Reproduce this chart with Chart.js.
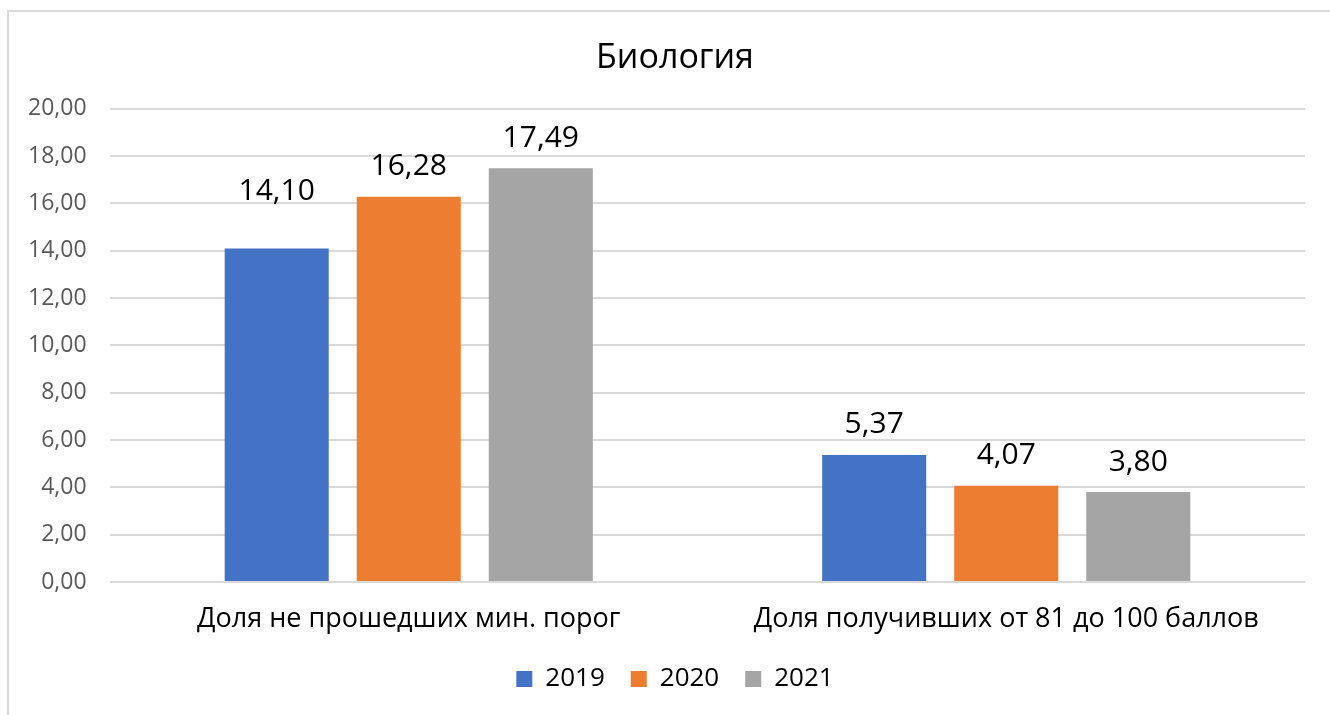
<!DOCTYPE html>
<html>
<head>
<meta charset="utf-8">
<script src="https://cdn.jsdelivr.net/npm/chart.js@4"></script>
<style>
  html, body { margin: 0; padding: 0; background: #fff; }
  #wrap { position: absolute; left: 0; top: 0; width: 1330px; height: 715px; }
  #frame { position: absolute; left: 7px; top: 10px; width: 1340px; height: 720px; border: 2px solid #d9d9d9; box-sizing: border-box; }
</style>
</head>
<body>
<div id="frame"></div>
<div id="wrap"><canvas id="bioChart"></canvas></div>
<script>
const categories = ['Доля не прошедших мин. порог', 'Доля получивших от 81 до 100 баллов'];
const years = ['2019', '2020', '2021'];
const values2019 = [14.10, 5.37];
const values2020 = [16.28, 4.07];
const values2021 = [17.49, 3.80];
const yTicks = [0, 2, 4, 6, 8, 10, 12, 14, 16, 18, 20];

const colors = ['#4472c4', '#ed7d31', '#a5a5a5'];
const fontFamily = '"Open Sans", "Noto Sans", sans-serif';

function fmt(v) {
    return v.toFixed(2).replace('.', ',');
}

// подписи значений над столбцами
const valueLabels = {
    id: 'valueLabels',
    afterDatasetsDraw(chart) {
        const ctx = chart.ctx;
        ctx.save();
        ctx.font = '30px ' + fontFamily;
        ctx.fillStyle = '#000';
        ctx.textAlign = 'center';
        ctx.textBaseline = 'middle';
        chart.data.datasets.forEach((ds, i) => {
            chart.getDatasetMeta(i).data.forEach((bar, j) => {
                let lift = 30;
                if (i === 0 && j === 0) lift = 57; // эта подпись в оригинале сдвинута выше
                ctx.fillText(fmt(ds.data[j]), bar.x, bar.y - lift);
            });
        });
        ctx.restore();
    }
};

const ctx = document.getElementById('bioChart').getContext('2d');
new Chart(ctx, {
    type: 'bar',
    data: {
        labels: categories,
        datasets: [
            { label: years[0], data: values2019, backgroundColor: colors[0] },
            { label: years[1], data: values2020, backgroundColor: colors[1] },
            { label: years[2], data: values2021, backgroundColor: colors[2] }
        ]
    },
    options: {
        responsive: true,
        maintainAspectRatio: false,
        animation: false,
        categoryPercentage: 0.663,
        barPercentage: 0.788,
        layout: {
            padding: { top: 38, left: 45, right: 25, bottom: 13 }
        },
        plugins: {
            title: {
                display: true,
                text: 'Биология',
                color: '#000',
                font: { family: fontFamily, size: 34, weight: 'normal' },
                padding: { top: 0, bottom: 30 }
            },
            legend: {
                position: 'bottom',
                labels: {
                    color: '#000',
                    boxWidth: 16,
                    boxHeight: 16,
                    padding: 26,
                    font: { family: fontFamily, size: 26 }
                }
            },
            tooltip: { enabled: false }
        },
        scales: {
            x: {
                afterFit(scale) { scale.height = 58; },
                grid: { display: false },
                border: { display: false },
                ticks: {
                    color: '#000',
                    padding: 13,
                    font: { family: fontFamily, size: 27 }
                }
            },
            y: {
                min: 0,
                max: 20,
                afterFit(scale) { scale.width = 65; },
                afterBuildTicks(scale) {
                    scale.ticks = yTicks.map(v => ({ value: v }));
                },
                grid: { color: '#d9d9d9', lineWidth: 2, drawTicks: false },
                border: { display: false },
                ticks: {
                    // mirror + far: подписи справа выровнены, без обрезки по краю оси
                    mirror: true,
                    crossAlign: 'far',
                    color: '#595959',
                    padding: -82,
                    font: { family: fontFamily, size: 23 },
                    callback: v => fmt(v)
                }
            }
        }
    },
    plugins: [valueLabels]
});
</script>
</body>
</html>
